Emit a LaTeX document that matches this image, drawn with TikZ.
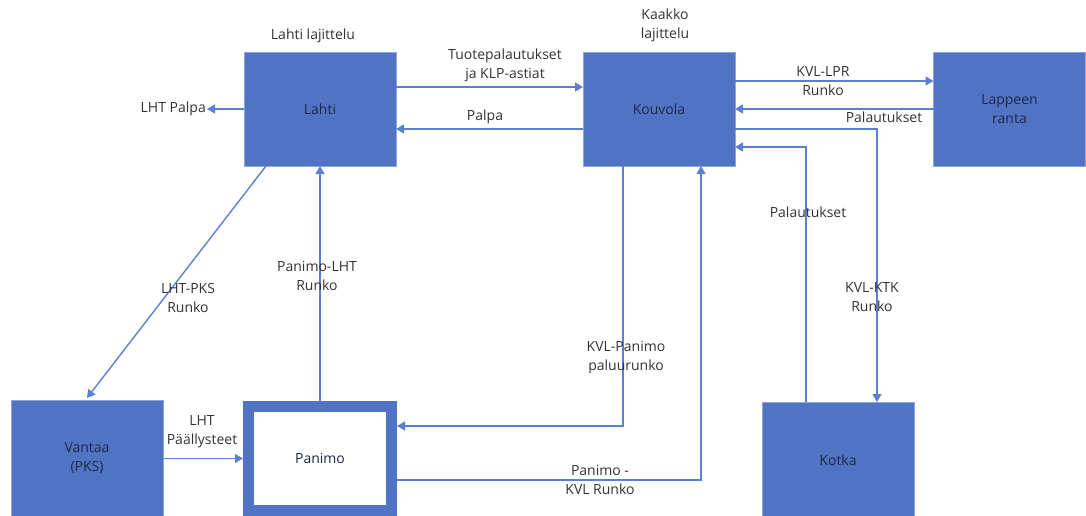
\documentclass[tikz,border=0pt]{standalone}
\usepackage{fontspec}
\setmainfont{Open Sans}
\usetikzlibrary{arrows.meta}
\definecolor{boxfill}{HTML}{5073C3}
\definecolor{boxedge}{HTML}{8FA6DA}
\definecolor{linecol}{HTML}{5B80D2}
\definecolor{labtext}{HTML}{333333}
\definecolor{boxtext}{HTML}{1E2A45}
\tikzset{
  blk/.style={draw=boxedge, line width=0.8pt, fill=boxfill, minimum width=152pt, minimum height=114pt, outer sep=0pt, inner sep=0pt, align=center, text=boxtext, font=\fontsize{14}{19}\selectfont},
  pan/.style={draw=boxfill, line width=11pt, fill=white, minimum width=143pt, minimum height=104pt, inner sep=0pt, align=center, text=boxtext, font=\fontsize{14}{19}\selectfont},
  lab/.style={align=center, text=labtext, inner sep=1pt, font=\fontsize{14}{19}\selectfont},
  arr/.style={draw=linecol, line width=1.4pt, -{Triangle[length=8pt,width=9pt]}},
}
\begin{document}
\begin{tikzpicture}[x=1pt,y=-1pt]
\useasboundingbox (0,0) rectangle (1086,516);
% boxes
\node[blk] (lahti) at (320,109) {Lahti};
\node[blk] (kouvola) at (659,109) {Kouvola};
\node[blk] (lpr) at (1009.5,109) {Lappeen\\ranta};
\node[blk, minimum height=117pt] (vantaa) at (87,458.5) {Vantaa\\(PKS)};
\node[pan] (panimo) at (320,458.5) {Panimo};
\node[blk, minimum height=116pt] (kotka) at (838,460) {Kotka};
% titles
\node[lab] (tl) at (313,36) {Lahti lajittelu};
\node[lab] (tk) at (665,25.5) {Kaakko\\lajittelu};
% LHT Palpa
\node[lab, anchor=east] (palpaout) at (207,109) {LHT Palpa};
\draw[arr] (lahti.west) -- (palpaout.east);
% Lahti <-> Kouvola
\draw[arr] ([yshift=22pt]lahti.east) -- ([yshift=22pt]kouvola.west);
\node[lab] (l1) at (505,65.5) {Tuotepalautukset\\ja KLP-astiat};
\draw[arr] ([yshift=-20pt]kouvola.west) -- ([yshift=-20pt]lahti.east);
\node[lab] (l2) at (485,117) {Palpa};
% Kouvola <-> Lappeenranta
\draw[arr] ([yshift=28pt]kouvola.east) -- ([yshift=28pt]lpr.west);
\node[lab] (l3) at (823,81.5) {KVL-LPR\\Runko};
\draw[arr] (lpr.west) -- (kouvola.east);
\node[lab] (l4) at (884,117) {Palautukset};
% Kouvola <-> Kotka
\draw[arr] ([yshift=-20pt]kouvola.east) -| ([xshift=39pt]kotka.north);
\node[lab] (l5) at (872,297) {KVL-KTK\\Runko};
\draw[arr] ([xshift=-32pt]kotka.north) |- ([yshift=-38pt]kouvola.east);
\node[lab] (l6) at (808,212) {Palautukset};
% Kouvola <-> Panimo
\draw[arr] ([xshift=-36pt]kouvola.south) |- ([yshift=32.5pt]panimo.east);
\node[lab] (l7) at (626,357.5) {KVL-Panimo\\paluurunko};
\draw[arr] ([yshift=-21.5pt]panimo.east) -| ([xshift=42pt]kouvola.south);
\node[lab] (l8) at (600,480) {Panimo -\\KVL Runko};
% Panimo -> Lahti
\draw[arr] (panimo.north) -- (lahti.south);
\node[lab] (l9) at (317,275.5) {Panimo-LHT\\Runko};
% Lahti -> Vantaa
\draw[arr] ([xshift=-54pt]lahti.south) -- ([yshift=2pt]vantaa.north);
\node[lab] (l10) at (188,297.5) {LHT-PKS\\Runko};
% Vantaa -> Panimo
\draw[arr] (vantaa.east) -- (panimo.west);
\node[lab] (l11) at (202,431.5) {LHT\\Päällysteet};
\end{tikzpicture}
\end{document}
